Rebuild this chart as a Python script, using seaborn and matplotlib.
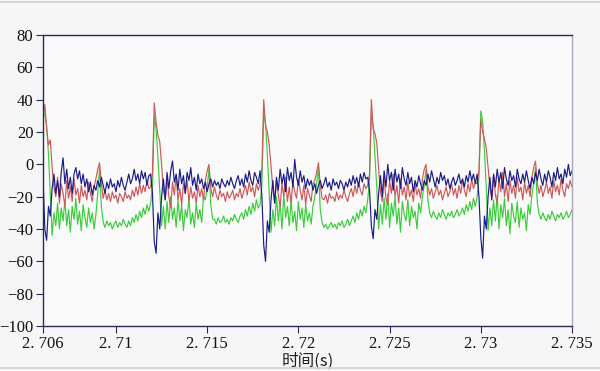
import numpy as np
import pandas as pd
import matplotlib
matplotlib.use("Agg")
import matplotlib.pyplot as plt
from matplotlib.lines import Line2D
from matplotlib.ticker import MultipleLocator, FixedLocator
import seaborn as sns

# ---- data (sampled every 0.1 ms from 2.706 s) ----
t_start = 2.706
t_step = 0.0001

red = [
    28, 37, 22, 12, 15, -2, -14, -20, -8, -24, -12, -18, -26, -10, -21, -14, -23, -9, -19, -15,
    -24, -13, -20, -16, -22, -11, -18, -23, -14, -9, -3, 1, -12, -21, -16, -22, -18, -23, -17, -21,
    -19, -24, -18, -20, -23, -17, -21, -19, -22, -16, -20, -14, -19, -12, -18, -13, -17, -10, -15,
    -14, -5, 38, 26, 18, 14, 0, -16, -22, -9, -20, -27, -11, -19, -7, -22, -15, -25, -12, -18,
    -10, -23, -14, -21, -17, -24, -13, -20, -15, -22, -10, -4, 0, -15, -20, -14, -19, -22, -16, -20,
    -18, -23, -17, -21, -19, -16, -22, -18, -20, -15, -21, -17, -13, -19, -11, -17, -14, -20, -12, -16,
    -12, -3, 40, 24, 20, 12, -1, -15, -24, -10, -19, -26, -12, -20, -8, -23, -14, -24, -11, -17,
    -21, -9, -16, -22, -13, -25, -15, -19, -23, -12, -10, -5, 1, -13, -21, -22, -19, -24, -18, -21,
    -20, -23, -17, -22, -19, -21, -16, -20, -23, -18, -15, -20, -13, -18, -11, -16, -19, -12, -15,
    -13, -6, 40, 22, 19, 13, -3, -17, -23, -8, -21, -25, -10, -18, -6, -20, -13, -24, -9, -19,
    -14, -22, -11, -20, -16, -23, -12, -19, -15, -21, -9, -3, 0, -14, -19, -15, -21, -17, -13, -19,
    -16, -22, -18, -14, -20, -17, -12, -19, -15, -21, -13, -18, -10, -16, -20, -12, -17, -9, -15, -11,
    -12, -4, 28, 20, 16, 10, -2, -14, -21, -7, -19, -24, -9, -17, -5, -20, -12, -23, -10, -18,
    -13, -21, -8, -17, -14, -22, -11, -18, -13, -20, -8, -2, 2, -12, -18, -13, -20, -16, -11, -18,
    -14, -21, -10, -17, -13, -19, -9, -16, -20, -12, -15, -10, -14,
]

blue = [
    -8, -40, -47, -26, -32, -15, -6, -18, -10, -20, -5, 4, -12, -3, -15, -8, -18, -6, -2, -9,
    -4, -12, -6, -14, -9, -17, -11, -19, -13, -16, -10, -14, -8, -13, -18, -11, -15, -9, -14, -12,
    -17, -10, -14, -8, -13, -16, -11, -6, -12, -9, -3, -10, -6, -12, -4, -9, -5, -13, -7,
    -6, -18, -48, -55, -30, -40, -20, -9, -22, -5, -15, -4, 2, -11, -6, -16, -3, -12, -7, -18,
    -5, -10, -2, -13, -8, -16, -6, -12, -9, -15, -11, -17, -12, -9, -14, -10, -13, -11, -15, -9,
    -12, -14, -10, -13, -8, -12, -15, -10, -7, -13, -9, -14, -6, -11, -4, -10, -13, -5, -8, -12,
    -4, -20, -50, -60, -35, -42, -22, -10, -24, -8, -16, -3, -12, -6, -17, -2, -10, -5, -14, 3,
    -8, -13, -4, -11, -7, -15, -9, -13, -10, -16, -12, -18, -13, -10, -15, -12, -8, -14, -11, -16,
    -9, -13, -11, -15, -10, -12, -16, -11, -14, -9, -13, -7, -12, -8, -14, -6, -11, -5, -9,
    -8, -16, -38, -46, -28, -34, -18, -7, -20, -4, -14, 0, -10, -5, -16, -3, -11, -6, -15, -2,
    -9, -13, -5, -12, -8, -17, -10, -14, -7, -12, -16, -10, -13, -6, -11, -4, -9, -14, -8, -12,
    -5, -10, -7, -13, -9, -15, -11, -8, -13, -10, -6, -12, -9, -14, -7, -11, -4, -10, -6, -12,
    -6, -20, -45, -58, -32, -40, -20, -8, -22, -6, -14, -3, -11, -5, -15, -2, -9, -13, -4, -10,
    -7, -14, -3, -9, -12, -6, -11, -4, -10, -15, -8, -12, -5, -10, -3, -9, -13, -6, -11, -4,
    -8, -14, -5, -10, -2, -9, -6, -12, -3, -8, 0, -7, -4,
]

green = [
    30, 31, 24, 6, -18, -44, -30, -38, -24, -40, -27, -35, -22, -38, -28, -42, -26, -34, -21, -37,
    -29, -41, -25, -33, -39, -27, -36, -30, -40, -31, -18, -2, -26, -36, -39, -35, -38, -36, -40, -37,
    -35, -39, -36, -38, -34, -37, -39, -35, -38, -33, -36, -31, -35, -29, -33, -27, -31, -25, -29,
    -24, -14, 30, 22, 4, -16, -38, -26, -40, -23, -36, -20, -34, -27, -39, -22, -35, -25, -41, -28,
    -33, -21, -37, -30, -39, -24, -34, -28, -36, -20, -22, -14, -3, -25, -34, -34, -37, -33, -36, -35,
    -32, -36, -34, -37, -33, -35, -31, -34, -36, -32, -30, -34, -28, -32, -26, -31, -24, -29, -22, -27,
    -25, -12, 32, 25, 6, -18, -42, -28, -38, -20, -35, -24, -40, -19, -33, -26, -38, -22, -36, -29,
    -41, -23, -34, -27, -39, -25, -35, -30, -37, -26, -20, -12, -2, -28, -36, -39, -37, -40, -38, -36,
    -39, -37, -40, -36, -38, -35, -39, -37, -34, -38, -35, -32, -36, -30, -34, -28, -32, -26, -30,
    -22, -10, 30, 24, 5, -15, -40, -25, -37, -21, -34, -18, -39, -24, -32, -20, -37, -27, -42, -23,
    -31, -35, -22, -38, -26, -33, -29, -40, -24, -30, -20, -13, -3, -22, -30, -33, -29, -32, -34, -30,
    -33, -28, -31, -34, -30, -32, -29, -33, -31, -28, -32, -30, -27, -31, -25, -29, -23, -28, -21, -26,
    -20, -8, 33, 27, 8, -14, -41, -27, -38, -22, -35, -19, -40, -25, -33, -21, -38, -28, -43, -24,
    -32, -36, -23, -39, -27, -34, -30, -41, -25, -31, -19, -12, -2, -24, -31, -34, -30, -33, -35, -31,
    -34, -29, -32, -35, -31, -33, -30, -34, -32, -29, -33, -31, -28,
]

x_ticks = [2.706, 2.71, 2.715, 2.72, 2.725, 2.73, 2.735]
x_tick_labels = ["2. 706", "2. 71", "2. 715", "2. 72", "2. 725", "2. 73", "2. 735"]
y_ticks = [-100, -80, -60, -40, -20, 0, 20, 40, 60, 80]
x_label = "时间(s)"

# ---- build long table ----
n = len(red)
t = t_start + np.arange(n) * t_step
df = pd.concat([
    pd.DataFrame({"t": t, "v": green, "s": "green"}),
    pd.DataFrame({"t": t, "v": red, "s": "red"}),
    pd.DataFrame({"t": t, "v": blue, "s": "blue"}),
], ignore_index=True)

sns.set_style("white")
plt.rcParams["font.family"] = ["Liberation Serif", "DejaVu Serif"]

fig = plt.figure(figsize=(6.0, 3.71), dpi=100, facecolor="#f6f6f6")
ax = fig.add_axes([43 / 600, 1 - 326 / 371, (572 - 43) / 600, (326 - 35) / 371])
ax.set_facecolor("#fafafa")

palette = {"green": "#3ccc3c", "red": "#cc5a5a", "blue": "#1c1c88"}
sns.lineplot(data=df, x="t", y="v", hue="s", palette=palette, estimator=None,
             sort=False, legend=False, linewidth=0.85, ax=ax)

ax.set_xlim(2.706, 2.735)
ax.set_ylim(-100, 80)
ax.xaxis.set_major_locator(FixedLocator(x_ticks))
ax.set_xticklabels(x_tick_labels)
ax.xaxis.set_minor_locator(MultipleLocator(0.0005))
ax.set_yticks(y_ticks)

navy = "#2a2a5a"
for side in ["left", "top", "bottom"]:
    ax.spines[side].set_color(navy)
    ax.spines[side].set_linewidth(1.0)
ax.spines["right"].set_color("#a8a8b8")
ax.spines["right"].set_linewidth(1.0)

ax.tick_params(axis="both", which="major", direction="out", length=5, width=0.8,
               color=navy, labelsize=12, labelcolor="#111111", pad=2)
ax.tick_params(axis="x", which="minor", direction="out", length=3, width=0.7, color=navy)
ax.tick_params(axis="y", which="minor", length=0)
ax.tick_params(left=True, bottom=True)

ax.set_ylabel("")
ax.set_xlabel(x_label, fontsize=12, color="#222222", labelpad=1,
              family=["Noto Sans CJK SC", "DejaVu Sans"])

# window frame lines
fig.add_artist(Line2D([0, 1], [1 - 2 / 371, 1 - 2 / 371], color="#d0d0d0", linewidth=1.2))
fig.add_artist(Line2D([0, 1], [1 - 368 / 371, 1 - 368 / 371], color="#d0d0d0", linewidth=1.2))

fig.savefig("out.png", dpi=100, facecolor=fig.get_facecolor())
